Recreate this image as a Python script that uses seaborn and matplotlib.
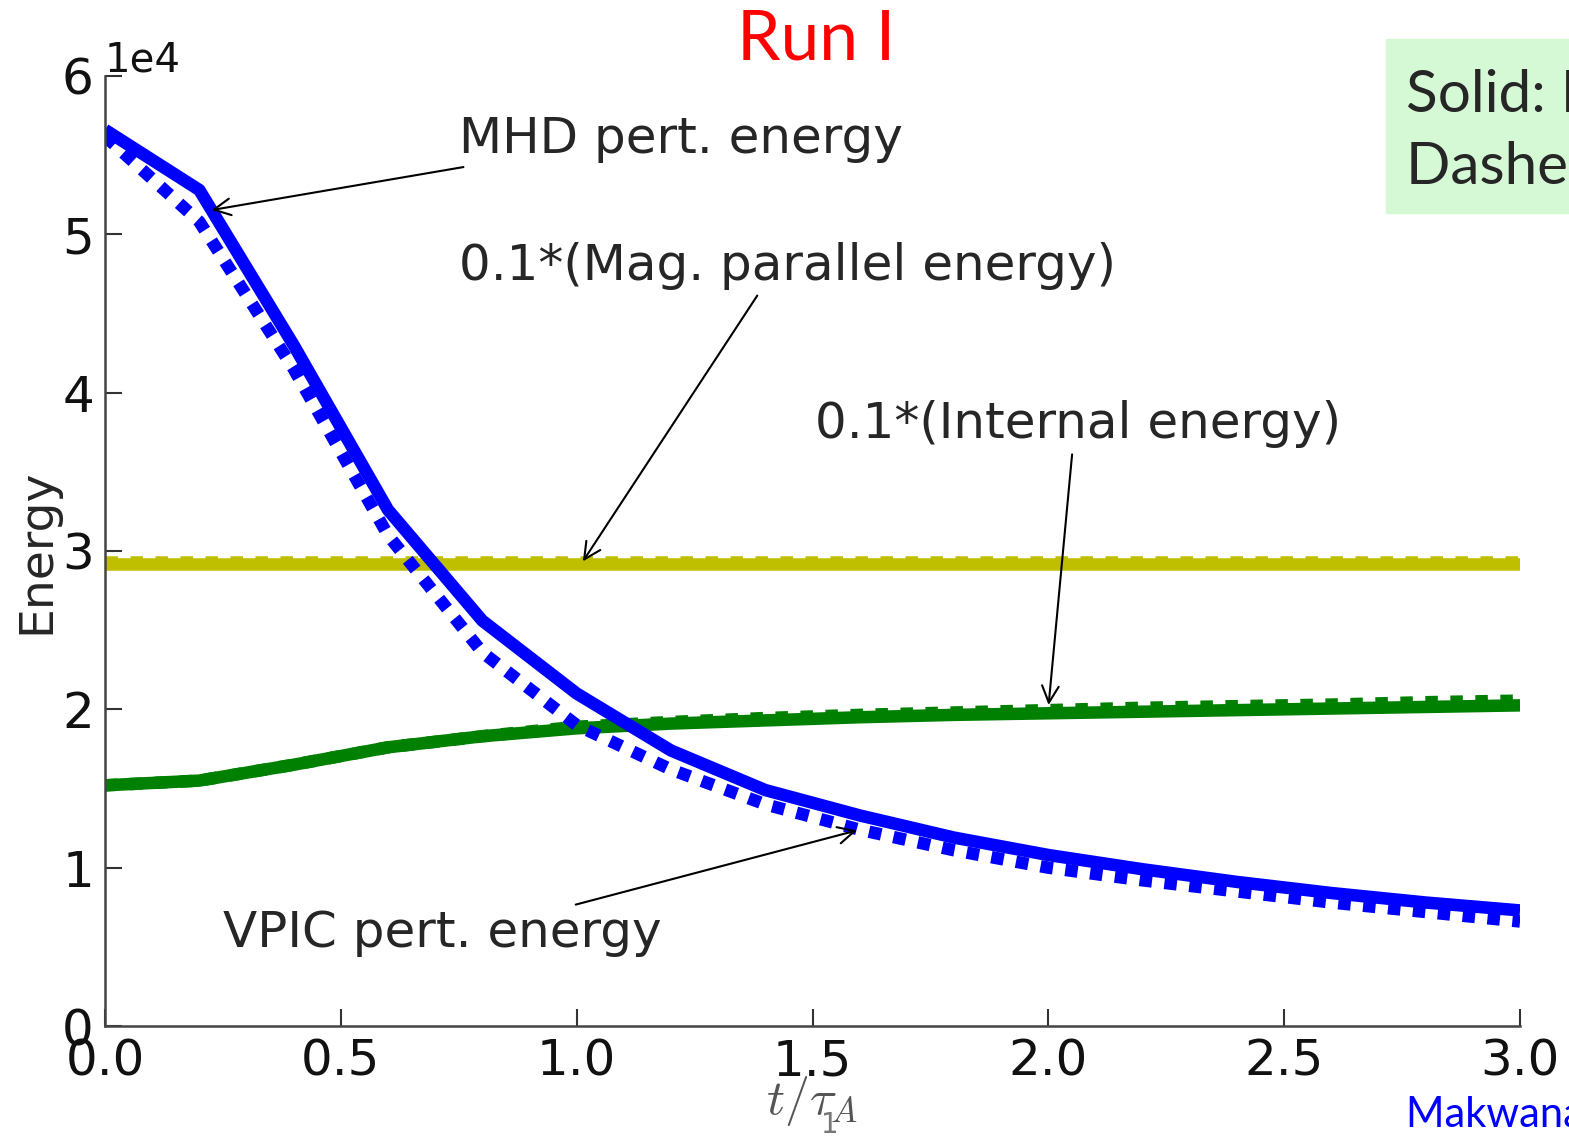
import numpy as np
import pandas as pd
import matplotlib
matplotlib.use("Agg")
import matplotlib.pyplot as plt
import seaborn as sns

# ---- data (units: energy) ----
t = [0.0, 0.2, 0.4, 0.6, 0.8, 1.0, 1.2, 1.4, 1.6, 1.8, 2.0, 2.2, 2.4, 2.6, 2.8, 3.0]
mhd_pert = [56600, 52800, 43000, 32600, 25600, 21000, 17400, 14900, 13300, 11900, 10800, 9900, 9100, 8400, 7800, 7300]
vpic_pert = [56200, 50800, 41500, 31000, 23600, 19000, 16200, 14000, 12400, 11100, 10000, 9200, 8500, 7800, 7200, 6600]
mhd_par = [29200, 29200, 29200, 29200, 29200, 29200, 29200, 29200, 29200, 29200, 29200, 29200, 29200, 29200, 29200, 29200]
vpic_par = [29300, 29300, 29300, 29300, 29300, 29300, 29300, 29300, 29300, 29300, 29300, 29300, 29300, 29300, 29300, 29300]
mhd_int = [15200, 15500, 16500, 17600, 18300, 18800, 19100, 19300, 19500, 19650, 19750, 19850, 19950, 20050, 20150, 20250]
vpic_int = [15200, 15500, 16500, 17600, 18300, 18900, 19200, 19450, 19650, 19800, 19950, 20100, 20200, 20300, 20450, 20550]

x_ticks = [0.0, 0.5, 1.0, 1.5, 2.0, 2.5, 3.0]
y_ticks = [0, 10000, 20000, 30000, 40000, 50000, 60000]

sns.set_style("white")
plt.rcParams['font.family'] = ['DejaVu Sans']
plt.rcParams['mathtext.fontset'] = 'cm'

fig = plt.figure(figsize=(15.69, 11.39), dpi=100)
ax = fig.add_axes([0.0669, 0.0992, 0.9019, 0.8341])

lw = 9
dash = (0, (1, 1))
sns.lineplot(x=t, y=mhd_par, ax=ax, color=(0.75, 0.75, 0), lw=lw, solid_capstyle='butt')
sns.lineplot(x=t, y=vpic_par, ax=ax, color=(0.75, 0.75, 0), lw=lw, linestyle=dash, dash_capstyle='butt')
sns.lineplot(x=t, y=mhd_int, ax=ax, color=(0, 0.5, 0), lw=lw, solid_capstyle='butt')
sns.lineplot(x=t, y=vpic_int, ax=ax, color=(0, 0.5, 0), lw=lw, linestyle=dash, dash_capstyle='butt')
sns.lineplot(x=t, y=vpic_pert, ax=ax, color=(0, 0, 1), lw=lw, linestyle=dash, dash_capstyle='butt')
sns.lineplot(x=t, y=mhd_pert, ax=ax, color=(0, 0, 1), lw=lw, solid_capstyle='butt')

ax.set_xlim(0, 3.0)
ax.set_ylim(0, 60000)
ax.set_xticks(x_ticks)
ax.set_yticks(y_ticks)
ax.ticklabel_format(axis='y', style='sci', scilimits=(0, 0))
ax.yaxis.get_offset_text().set_fontsize(29)
ax.tick_params(direction='in', length=12, width=1.5, labelsize=36, pad=8,
               left=True, bottom=True, top=False, right=False, colors='#333333', labelcolor='#111111')
for s in ['top', 'right']:
    ax.spines[s].set_visible(False)
for s in ['left', 'bottom']:
    ax.spines[s].set_color('#444444')
    ax.spines[s].set_linewidth(1.8)

ax.set_ylabel("Energy", fontsize=34, labelpad=2)
ax.set_xlabel(r"$t/\tau_A$", fontsize=36, color='#555555', labelpad=-8)

fs = 36
arrow = dict(arrowstyle='->', color='black', lw=1.5, mutation_scale=30)
ax.annotate("MHD pert. energy", xy=(0.22, 51500), xytext=(0.75, 56000),
            fontsize=fs, ha='left', va='center', arrowprops=dict(arrow, relpos=(0.06, 0.0)))
ax.annotate("0.1*(Mag. parallel energy)", xy=(1.01, 29200), xytext=(0.75, 48000),
            fontsize=fs, ha='left', va='center', arrowprops=dict(arrow, relpos=(0.46, 0.0)))
ax.annotate("0.1*(Internal energy)", xy=(2.0, 20100), xytext=(1.505, 38000),
            fontsize=fs, ha='left', va='center', arrowprops=dict(arrow, relpos=(0.49, 0.0)))
ax.annotate("VPIC pert. energy", xy=(1.6, 12400), xytext=(0.25, 5900),
            fontsize=fs, ha='left', va='center', arrowprops=dict(arrow, relpos=(0.77, 1.0)))

# slide decorations
fig.text(0.52, 0.965, "Run I", color='red', fontsize=50, family='Lato', ha='center', va='center')
fig.patches.append(matplotlib.patches.Rectangle((1386 / 1569, 1 - 213 / 1139), 0.2, 174 / 1139,
                                                transform=fig.transFigure, color='#d5f8d5', zorder=0))
fig.text(1406 / 1569, 1 - 95 / 1139, "Solid: MHD", fontsize=42, family='Lato', ha='left', va='center')
fig.text(1406 / 1569, 1 - 168 / 1139, "Dashed: VPIC", fontsize=42, family='Lato', ha='left', va='center')
fig.text(1406 / 1569, 1 - 1115 / 1139, "Makwana et al.", fontsize=30, family='Lato', color='blue', ha='left', va='center')
fig.text(830 / 1569, 1 - 1125 / 1139, "1", fontsize=20, color='#777777', ha='center', va='center')

fig.savefig("out.png", dpi=100)
